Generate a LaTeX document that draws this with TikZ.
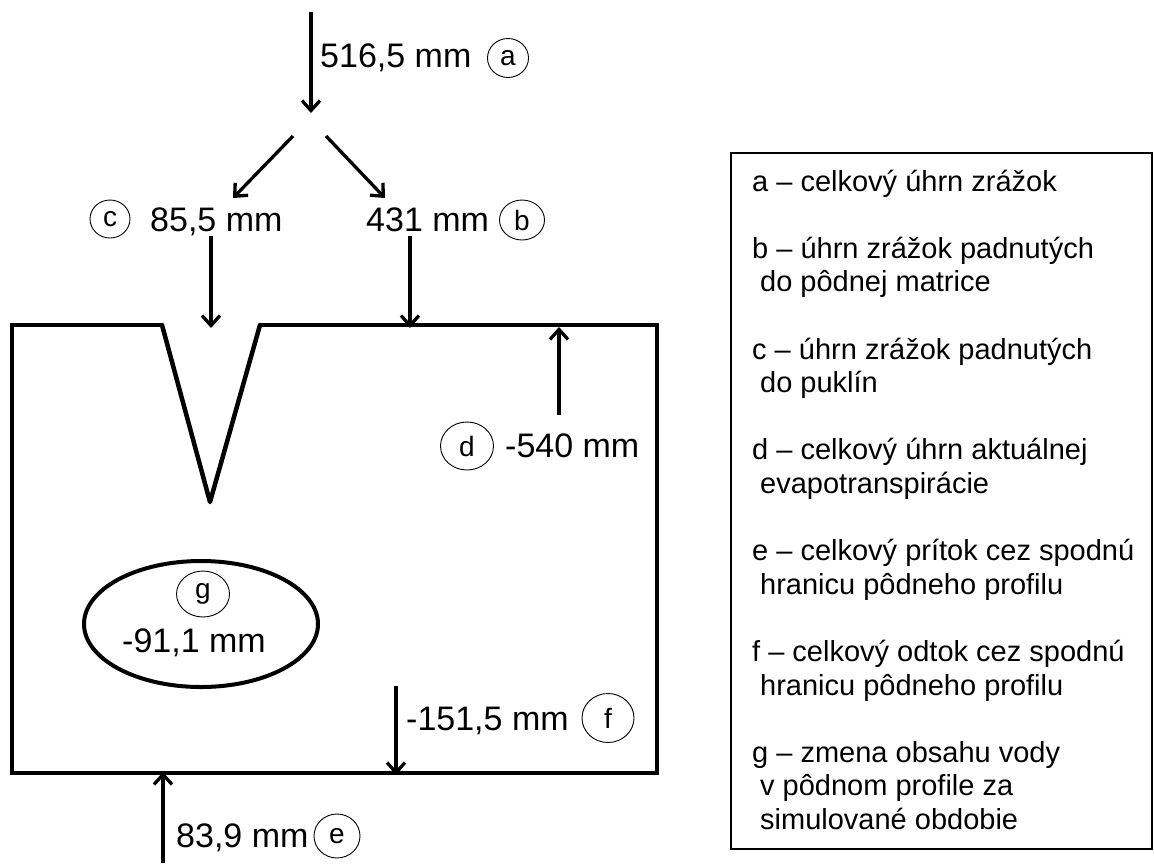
\documentclass[tikz,border=0pt]{standalone}
\usepackage{fontspec}
\setmainfont{Liberation Sans}
\usetikzlibrary{arrows.meta,shapes.geometric}
\tikzset{
  flow/.style={line width=3.3pt,-{Straight Barb[length=10pt,width=18pt,line width=3.3pt]}},
  lbl/.style={anchor=base west,inner sep=0pt,font=\fontsize{34}{40}\selectfont},
  letter/.style={ellipse,draw,line width=0.9pt,inner sep=0pt,font=\fontsize{28}{32}\selectfont},
  soil/.style={line width=4.5pt},
  legline/.style={anchor=base west,inner sep=0pt,font=\fontsize{29}{34}\selectfont},
}
\begin{document}
\begin{tikzpicture}[x=1pt,y=-1pt]
\useasboundingbox (0,0) rectangle (1154,863);
% soil profile with crack
\draw[soil,line join=miter] (162,325) -- (12,325) -- (12,773) -- (657,773) -- (657,325) -- (260,325);
\draw[soil,line join=round,line cap=round] (162,325) -- (210,502) -- (260,325);
% water content ellipse
\node[ellipse,draw,line width=4pt,minimum width=234pt,minimum height=126pt] (gell) at (201,624) {};
% coordinates for flows
\coordinate (aTop) at (311,12);
\coordinate (split) at (311,113);
\coordinate (lStart) at (293,136);
\coordinate (lEnd) at (233,198);
\coordinate (rStart) at (326,136);
\coordinate (rEnd) at (385,198);
\coordinate (cStart) at (211,236);
\coordinate (cEnd) at (211,328);
\coordinate (bStart) at (410,236);
\coordinate (bEnd) at (410,328);
\coordinate (dStart) at (559,415);
\coordinate (dEnd) at (559,327);
\coordinate (fStart) at (396,686);
\coordinate (fEnd) at (396,775);
\coordinate (eStart) at (163,863);
\coordinate (eEnd) at (163,772);
\draw[flow] (aTop) -- (split);
\draw[flow] (lStart) -- (lEnd);
\draw[flow] (rStart) -- (rEnd);
\draw[flow] (cStart) -- (cEnd);
\draw[flow] (bStart) -- (bEnd);
\draw[flow] (dStart) -- (dEnd);
\draw[flow] (fStart) -- (fEnd);
\draw[flow] (eStart) -- (eEnd);
% labels
\node[lbl] (la) at (320,67) {516,5 mm};
\node[letter,minimum width=41pt,minimum height=39pt] (ca) at (508,58) {a};
\node[letter,minimum width=40pt,minimum height=38pt] (cc) at (110,219) {c};
\node[lbl] (lc) at (150,231) {85,5 mm};
\node[lbl] (lb) at (366,231) {431 mm};
\node[letter,minimum width=45pt,minimum height=40pt] (cb) at (522,220) {b};
\node[letter,minimum width=53pt,minimum height=48pt] (cd) at (467,446) {d};
\node[lbl] (ld) at (505,457) {-540 mm};
\node[letter,minimum width=53pt,minimum height=46pt] (cg) at (203,594) {g};
\node[lbl] (lg) at (122,652) {-91,1 mm};
\node[lbl] (lf) at (406,730) {-151,5 mm};
\node[letter,minimum width=52pt,minimum height=49pt] (cf) at (608,718) {f};
\node[lbl] (le) at (176,847) {83,9 mm};
\node[letter,minimum width=46pt,minimum height=44pt] (ce) at (337,836) {e};
% legend
\draw[line width=1.5pt] (731,153) rectangle (1152,849);
\node[legline] (g1) at (752,191.0) {a – celkový úhrn zrážok};
\node[legline] (g2) at (752,258.2) {b – úhrn zrážok padnutých};
\node[legline] (g3) at (760,291.8) {do pôdnej matrice};
\node[legline] (g4) at (752,359.0) {c – úhrn zrážok padnutých};
\node[legline] (g5) at (760,392.6) {do puklín};
\node[legline] (g6) at (752,459.8) {d – celkový úhrn aktuálnej};
\node[legline] (g7) at (760,493.4) {evapotranspirácie};
\node[legline] (g8) at (752,560.6) {e – celkový prítok cez spodnú};
\node[legline] (g9) at (760,594.2) {hranicu pôdneho profilu};
\node[legline] (g10) at (752,661.4) {f – celkový odtok cez spodnú};
\node[legline] (g11) at (760,695.0) {hranicu pôdneho profilu};
\node[legline] (g12) at (752,762.2) {g – zmena obsahu vody};
\node[legline] (g13) at (760,795.8) {v pôdnom profile za};
\node[legline] (g14) at (760,829.4) {simulované obdobie};
\end{tikzpicture}
\end{document}
